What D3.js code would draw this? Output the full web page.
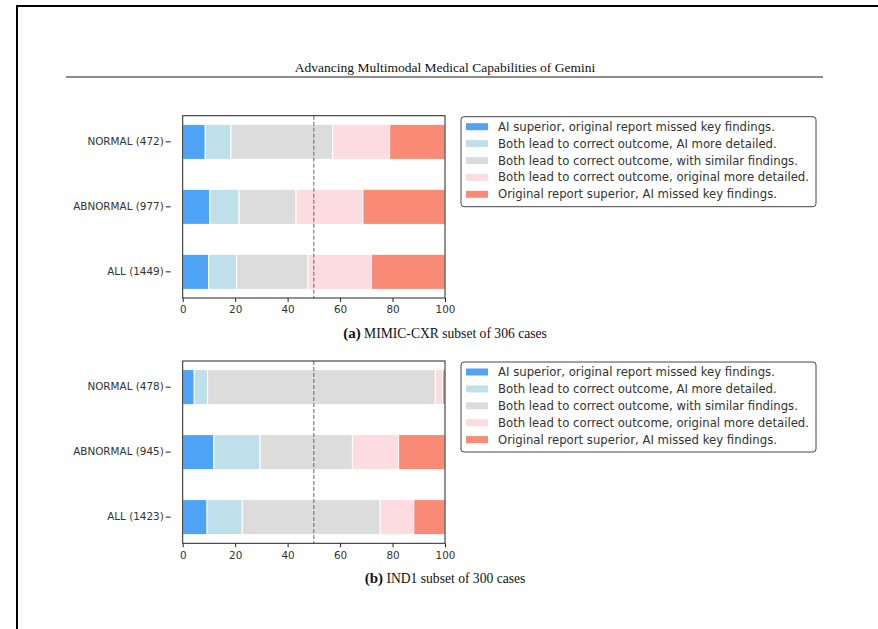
<!DOCTYPE html>
<html>
<head>
<meta charset="utf-8">
<script src="https://cdn.jsdelivr.net/npm/d3@7"></script>
<style>
  body { margin: 0; background: #fff; }
  svg { display: block; }
</style>
</head>
<body>
<div id="chart"></div>
<script>
const width = 878, height = 629;

// legend / series labels
const seriesLabels = [
  "AI superior, original report missed key findings.",
  "Both lead to correct outcome, AI more detailed.",
  "Both lead to correct outcome, with similar findings.",
  "Both lead to correct outcome, original more detailed.",
  "Original report superior, AI missed key findings."
];
const seriesKeys = ["aiSup", "aiDet", "similar", "origDet", "origSup"];
const seriesColors = ["#4fa3f7", "#bfe0ea", "#dcdcdc", "#fcdce1", "#f98a76"];

// panel (a) MIMIC-CXR
const mimicCategories = ["NORMAL (472)", "ABNORMAL (977)", "ALL (1449)"];
const mimicShares = [
  [8.6, 9.8, 38.8, 21.7, 21.1],
  [10.4, 11.1, 21.7, 25.5, 31.3],
  [9.9, 10.7, 27.2, 24.2, 28.0]
];

// panel (b) IND1
const ind1Categories = ["NORMAL (478)", "ABNORMAL (945)", "ALL (1423)"];
const ind1Shares = [
  [4.4, 5.1, 86.8, 2.8, 0.9],
  [11.9, 17.6, 35.2, 17.6, 17.7],
  [9.3, 13.4, 52.6, 12.8, 11.9]
];

const xTicks = [0, 20, 40, 60, 80, 100];

const svg = d3.select("#chart").append("svg")
  .attr("width", width)
  .attr("height", height);

// page frame
svg.append("path")
  .attr("d", "M17,629 V6 H878")
  .attr("fill", "none")
  .attr("stroke", "#000")
  .attr("stroke-width", 2);

// running header
svg.append("text")
  .attr("x", 445)
  .attr("y", 72)
  .attr("text-anchor", "middle")
  .style("font-family", "Liberation Serif, serif")
  .style("font-size", "13.5px")
  .style("fill", "#111")
  .text("Advancing Multimodal Medical Capabilities of Gemini");

svg.append("line")
  .attr("x1", 66).attr("x2", 823)
  .attr("y1", 77).attr("y2", 77)
  .attr("stroke", "#666")
  .attr("stroke-width", 1.3);

function drawPanel(top, categories, shares, captionBold, captionText) {
  const plotLeft = 182.7, plotRight = 445;
  const plotTop = top, plotBottom = top + 182.3;

  const rows = categories.map((c, i) => {
    const row = { cat: c };
    seriesKeys.forEach((k, j) => row[k] = shares[i][j]);
    return row;
  });
  const stacked = d3.stack().keys(seriesKeys)(rows);

  const x = d3.scaleLinear().domain([0, 100]).range([plotLeft, plotRight]);
  const y = d3.scaleBand()
    .domain(categories)
    .range([plotTop, plotBottom])
    .paddingInner(0.46)
    .paddingOuter(0.1325);

  const g = svg.append("g");

  stacked.forEach((layer, j) => {
    g.selectAll(null)
      .data(layer)
      .join("rect")
      .attr("x", d => x(d[0]))
      .attr("y", d => y(d.data.cat))
      .attr("width", d => Math.max(0, x(d[1]) - x(d[0])))
      .attr("height", y.bandwidth())
      .attr("fill", seriesColors[j])
      .attr("stroke", "#fff")
      .attr("stroke-width", 1);
  });

  // dashed 50% line
  g.append("line")
    .attr("x1", x(50)).attr("x2", x(50))
    .attr("y1", plotTop).attr("y2", plotBottom)
    .attr("stroke", "#666")
    .attr("stroke-width", 1)
    .attr("stroke-dasharray", "4,2");

  // frame
  g.append("rect")
    .attr("x", plotLeft).attr("y", plotTop)
    .attr("width", plotRight - plotLeft)
    .attr("height", plotBottom - plotTop)
    .attr("fill", "none")
    .attr("stroke", "#222")
    .attr("stroke-width", 1);

  const xAxis = g.append("g")
    .attr("transform", `translate(0,${plotBottom})`)
    .call(d3.axisBottom(x).tickValues(xTicks).tickSize(4).tickPadding(4));
  // y ticks sit a little left of the spine, as in the source image
  const yAxis = g.append("g")
    .attr("transform", `translate(${plotLeft - 12},0)`)
    .call(d3.axisLeft(y).tickSize(5).tickPadding(2));

  [xAxis, yAxis].forEach(a => {
    a.select(".domain").remove();
    a.selectAll("line").attr("stroke", "#222");
    a.selectAll("text")
      .style("font-family", "DejaVu Sans, sans-serif")
      .style("font-size", "10.4px")
      .style("fill", "#333");
  });

  // legend
  const lg = g.append("g").attr("transform", `translate(461,${plotTop + 1})`);
  lg.append("rect")
    .attr("width", 355).attr("height", 90)
    .attr("rx", 3)
    .attr("fill", "#fff")
    .attr("stroke", "#444")
    .attr("stroke-width", 1);
  seriesLabels.forEach((lab, j) => {
    const cy = 10 + j * 16.9;
    lg.append("rect")
      .attr("x", 5).attr("y", cy - 3.5)
      .attr("width", 22).attr("height", 7)
      .attr("fill", seriesColors[j]);
    lg.append("text")
      .attr("x", 37).attr("y", cy)
      .attr("dy", "0.35em")
      .style("font-family", "DejaVu Sans, sans-serif")
      .style("font-size", "11.7px")
      .style("fill", "#333")
      .text(lab);
  });

  // caption
  const cap = svg.append("text")
    .attr("x", 445)
    .attr("y", plotBottom + 40)
    .attr("text-anchor", "middle")
    .style("font-family", "Liberation Serif, serif")
    .style("font-size", "13.6px")
    .style("fill", "#111");
  cap.append("tspan").style("font-weight", "bold").style("font-size", "15px").text(captionBold);
  cap.append("tspan").text(" " + captionText);
}

drawPanel(115.7, mimicCategories, mimicShares, "(a)", "MIMIC-CXR subset of 306 cases");
drawPanel(361, ind1Categories, ind1Shares, "(b)", "IND1 subset of 300 cases");
</script>
</body>
</html>
